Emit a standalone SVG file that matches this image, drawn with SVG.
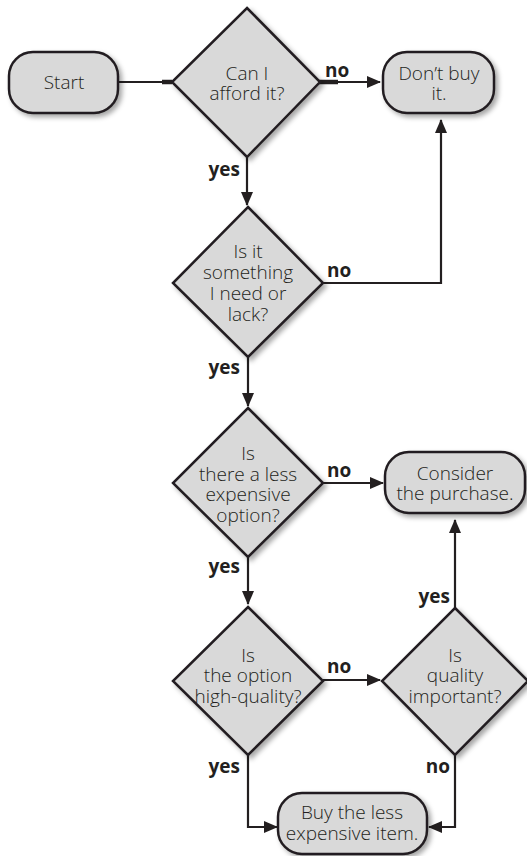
<svg xmlns="http://www.w3.org/2000/svg" width="527" height="856" viewBox="0 0 527 856">
<defs>
<filter id="sh" x="-20%" y="-20%" width="150%" height="150%">
<feDropShadow dx="3" dy="3" stdDeviation="2.5" flood-color="#000" flood-opacity="0.35"/>
</filter>
<marker id="ah" markerWidth="14" markerHeight="14" viewBox="0 0 14 14" refX="13" refY="7" orient="auto" markerUnits="userSpaceOnUse">
<path d="M0,1 L14,7 L0,13 Z" fill="#231f20"/>
</marker>
</defs>
<style>
.n{fill:#d9d9d9;stroke:#231f20;stroke-width:2.5;filter:url(#sh)}
.t{font-family:"Open Sans","Liberation Sans",sans-serif;font-size:19px;font-weight:300;fill:#231f20;text-anchor:middle}
.l{font-family:"Open Sans","Liberation Sans",sans-serif;font-size:19px;font-weight:700;fill:#231f20}
.c{fill:none;stroke:#231f20;stroke-width:2.2}
.k{fill:none;stroke:#231f20;stroke-width:4.5}
</style>
<rect width="527" height="856" fill="#fff"/>
<g id="connectors">
<path class="c" d="M118,82 H172"/>
<path class="k" d="M162,82 H172"/>
<path class="c" d="M319,82 H380" marker-end="url(#ah)"/>
<path class="k" d="M319,82 H338"/>
<path class="c" d="M247,157 V205" marker-end="url(#ah)"/>
<path class="c" d="M323,283 H441 V120" marker-end="url(#ah)"/>
<path class="c" d="M248,357 V406" marker-end="url(#ah)"/>
<path class="c" d="M323,483 H383" marker-end="url(#ah)"/>
<path class="c" d="M248,557 V604" marker-end="url(#ah)"/>
<path class="c" d="M323,680 H380" marker-end="url(#ah)"/>
<path class="c" d="M455,608 V520" marker-end="url(#ah)"/>
<path class="c" d="M248,755 V827 H277" marker-end="url(#ah)"/>
<path class="c" d="M455,755 V827 H429" marker-end="url(#ah)"/>
<text class="l" x="325" y="77">no</text>
<text class="l" x="240" y="176" text-anchor="end">yes</text>
<text class="l" x="327" y="277">no</text>
<text class="l" x="240" y="374" text-anchor="end">yes</text>
<text class="l" x="327" y="477">no</text>
<text class="l" x="240" y="573" text-anchor="end">yes</text>
<text class="l" x="450" y="603" text-anchor="end">yes</text>
<text class="l" x="327" y="673">no</text>
<text class="l" x="240" y="773" text-anchor="end">yes</text>
<text class="l" x="450" y="773" text-anchor="end">no</text>
</g>
<g id="start">
<rect class="n" x="9" y="52" width="109" height="61" rx="24"/>
<text class="t" x="64" y="89">Start</text>
</g>
<g id="afford">
<polygon class="n" points="247,8 320,82 247,157 172,82"/>
<text class="t" x="247" y="80">Can I</text>
<text class="t" x="247" y="100">afford it?</text>
</g>
<g id="dontbuy">
<rect class="n" x="383" y="52" width="111" height="61" rx="24"/>
<text class="t" x="439" y="80">Don’t buy</text>
<text class="t" x="439" y="100">it.</text>
</g>
<g id="need">
<polygon class="n" points="248,207 323,283 248,357 173,283"/>
<text class="t" x="248" y="258">Is it</text>
<text class="t" x="248" y="279">something</text>
<text class="t" x="248" y="300">I need or</text>
<text class="t" x="248" y="321">lack?</text>
</g>
<g id="cheaper">
<polygon class="n" points="248,408 323,483 248,557 173,483"/>
<text class="t" x="248" y="460">Is</text>
<text class="t" x="248" y="481">there a less</text>
<text class="t" x="248" y="501">expensive</text>
<text class="t" x="248" y="522">option?</text>
</g>
<g id="consider">
<rect class="n" x="385" y="452" width="140" height="61" rx="24"/>
<text class="t" x="455" y="480">Consider</text>
<text class="t" x="455" y="500">the purchase.</text>
</g>
<g id="highquality">
<polygon class="n" points="248,607 323,681 248,755 173,681"/>
<text class="t" x="248" y="662">Is</text>
<text class="t" x="248" y="682">the option</text>
<text class="t" x="248" y="703">high-quality?</text>
</g>
<g id="important">
<polygon class="n" points="455,608 528,681 455,755 382,681"/>
<text class="t" x="455" y="662">Is</text>
<text class="t" x="455" y="682">quality</text>
<text class="t" x="455" y="703">important?</text>
</g>
<g id="buy">
<rect class="n" x="278" y="793" width="149" height="61" rx="24"/>
<text class="t" x="352" y="819">Buy the less</text>
<text class="t" x="352" y="840">expensive item.</text>
</g>
</svg>
